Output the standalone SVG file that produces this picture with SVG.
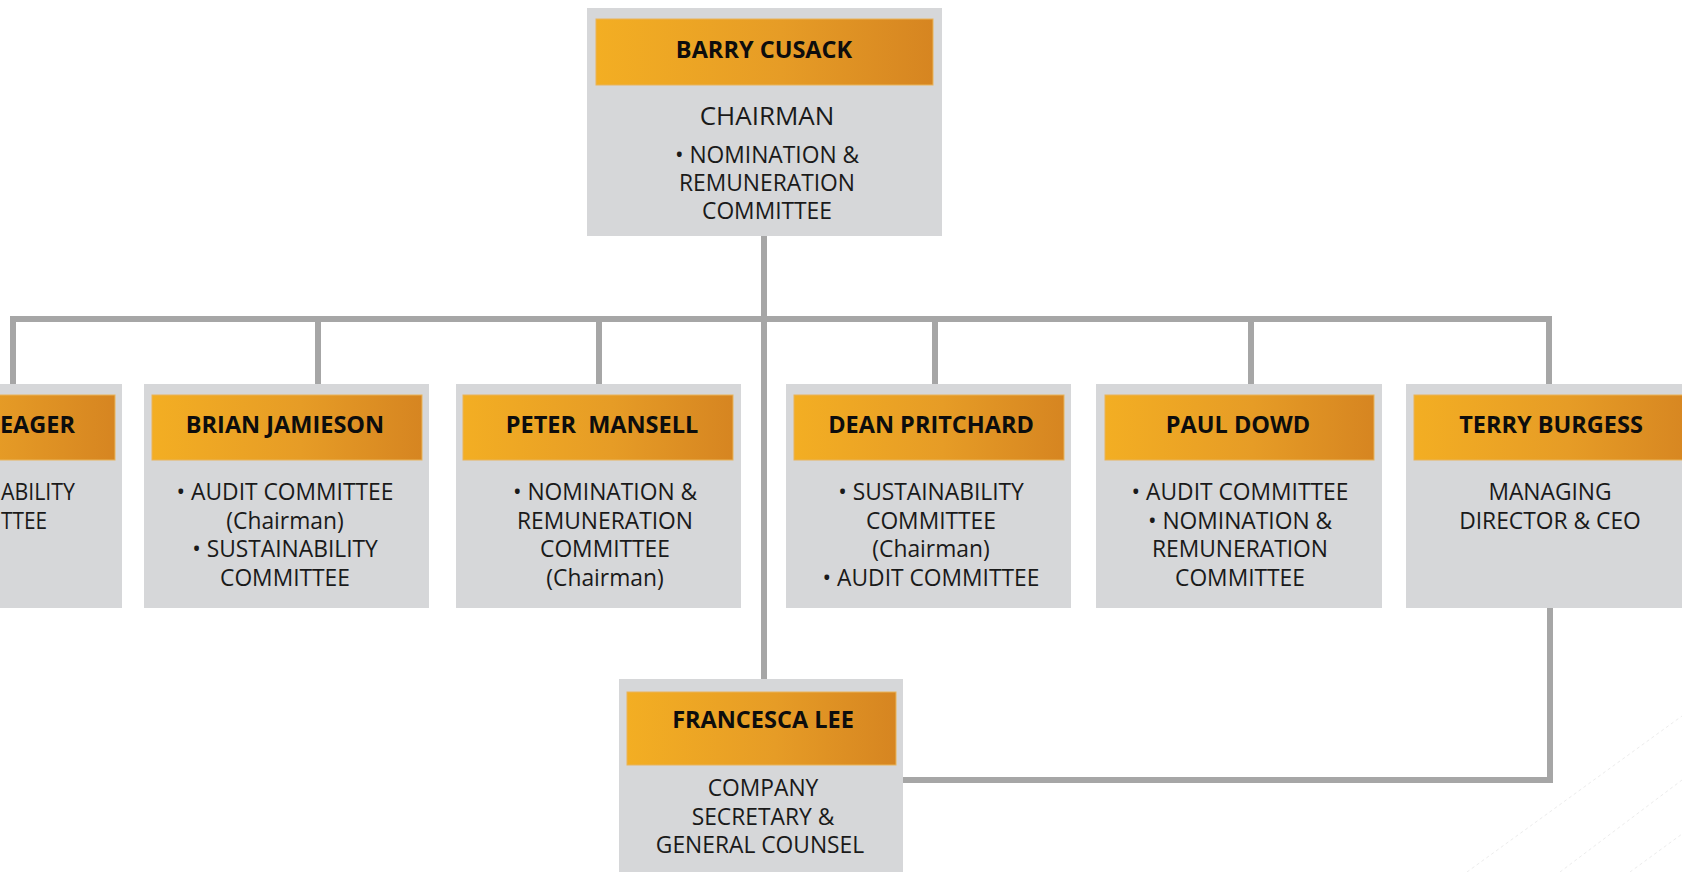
<svg xmlns="http://www.w3.org/2000/svg" width="1682" height="872" viewBox="0 0 1682 872">
  <defs>
    <linearGradient id="hdr" x1="0" y1="0" x2="1" y2="0">
      <stop offset="0" stop-color="#f3ae23"/>
      <stop offset="0.55" stop-color="#e69c26"/>
      <stop offset="1" stop-color="#d68521"/>
    </linearGradient>
    <style>
      .card { fill: #d6d7d9; }
      .head { fill: url(#hdr); stroke: #e9b45a; stroke-width: 1; }
      .name { font-family: "Open Sans", "Noto Sans", sans-serif; font-weight: 700; font-size: 23.5px; fill: #0d0d0d; text-anchor: middle; }
      .role { font-family: "Open Sans", "Noto Sans", sans-serif; font-size: 22.8px; fill: #1a1a1a; text-anchor: middle; }
      .title { font-size: 26px; }
      .end { text-anchor: end; }
      .start { text-anchor: start; }
      .link { fill: none; stroke: #a6a6a6; stroke-width: 6; stroke-linecap: square; }
      .deco { fill: none; stroke: #ececec; stroke-width: 1; stroke-dasharray: 3 3; }
    </style>
  </defs>

  <rect width="1682" height="872" fill="#ffffff"/>

  <!-- faint diagonal background strokes, lower right -->
  <g id="decoration">
    <path class="deco" d="M1467 872 L1682 716"/>
    <path class="deco" d="M1560 872 L1682 780"/>
    <path class="deco" d="M1630 872 L1682 834"/>
  </g>

  <!-- reporting lines -->
  <g id="connectors">
    <path class="link" d="M13 319 H1549"/>
    <path class="link" d="M13 319 V384"/>
    <path class="link" d="M318 319 V384"/>
    <path class="link" d="M599 319 V384"/>
    <path class="link" d="M935 319 V384"/>
    <path class="link" d="M1251 319 V384"/>
    <path class="link" d="M1549 319 V384"/>
    <path class="link" d="M764 236 V679"/>
    <path class="link" d="M1550 608 V780 H906"/>
  </g>

  <g id="barry-cusack">
    <rect class="card" x="587" y="8" width="355" height="228"/>
    <rect class="head" x="596" y="19" width="337" height="66"/>
    <text class="name" x="764" y="58">BARRY CUSACK</text>
    <text class="role title" x="767" y="125">CHAIRMAN</text>
    <text class="role" x="767" y="163">• NOMINATION &amp;</text>
    <text class="role" x="767" y="191">REMUNERATION</text>
    <text class="role" x="767" y="219">COMMITTEE</text>
  </g>

  <g id="left-director">
    <rect class="card" x="-164" y="384" width="286" height="224"/>
    <rect class="head" x="-156" y="395" width="271" height="65"/>
    <text class="name end" x="75" y="433">EAGER</text>
    <text class="role start" x="1" y="500" textLength="74" lengthAdjust="spacingAndGlyphs">ABILITY</text>
    <text class="role start" x="1" y="529" textLength="46" lengthAdjust="spacingAndGlyphs">TTEE</text>
  </g>

  <g id="brian-jamieson">
    <rect class="card" x="144" y="384" width="285" height="224"/>
    <rect class="head" x="152" y="395" width="270" height="65"/>
    <text class="name" x="285" y="433">BRIAN JAMIESON</text>
    <text class="role" x="285" y="500">• AUDIT COMMITTEE</text>
    <text class="role" x="285" y="529">(Chairman)</text>
    <text class="role" x="285" y="557">• SUSTAINABILITY</text>
    <text class="role" x="285" y="586">COMMITTEE</text>
  </g>

  <g id="peter-mansell">
    <rect class="card" x="456" y="384" width="285" height="224"/>
    <rect class="head" x="463" y="395" width="270" height="65"/>
    <text class="name" x="602" y="433" xml:space="preserve">PETER  MANSELL</text>
    <text class="role" x="605" y="500">• NOMINATION &amp;</text>
    <text class="role" x="605" y="529">REMUNERATION</text>
    <text class="role" x="605" y="557">COMMITTEE</text>
    <text class="role" x="605" y="586">(Chairman)</text>
  </g>

  <g id="dean-pritchard">
    <rect class="card" x="786" y="384" width="285" height="224"/>
    <rect class="head" x="794" y="395" width="270" height="65"/>
    <text class="name" x="931" y="433">DEAN PRITCHARD</text>
    <text class="role" x="931" y="500">• SUSTAINABILITY</text>
    <text class="role" x="931" y="529">COMMITTEE</text>
    <text class="role" x="931" y="557">(Chairman)</text>
    <text class="role" x="931" y="586">• AUDIT COMMITTEE</text>
  </g>

  <g id="paul-dowd">
    <rect class="card" x="1096" y="384" width="286" height="224"/>
    <rect class="head" x="1105" y="395" width="269" height="65"/>
    <text class="name" x="1238" y="433">PAUL DOWD</text>
    <text class="role" x="1240" y="500">• AUDIT COMMITTEE</text>
    <text class="role" x="1240" y="529">• NOMINATION &amp;</text>
    <text class="role" x="1240" y="557">REMUNERATION</text>
    <text class="role" x="1240" y="586">COMMITTEE</text>
  </g>

  <g id="terry-burgess">
    <rect class="card" x="1406" y="384" width="290" height="224"/>
    <rect class="head" x="1414" y="395" width="280" height="65"/>
    <text class="name" x="1551" y="433">TERRY BURGESS</text>
    <text class="role" x="1550" y="500">MANAGING</text>
    <text class="role" x="1550" y="529">DIRECTOR &amp; CEO</text>
  </g>

  <g id="francesca-lee">
    <rect class="card" x="619" y="679" width="284" height="200"/>
    <rect class="head" x="627" y="692" width="269" height="73"/>
    <text class="name" x="763" y="728">FRANCESCA LEE</text>
    <text class="role" x="763" y="796">COMPANY</text>
    <text class="role" x="763" y="825">SECRETARY &amp;</text>
    <text class="role" x="760" y="853">GENERAL COUNSEL</text>
  </g>
</svg>
